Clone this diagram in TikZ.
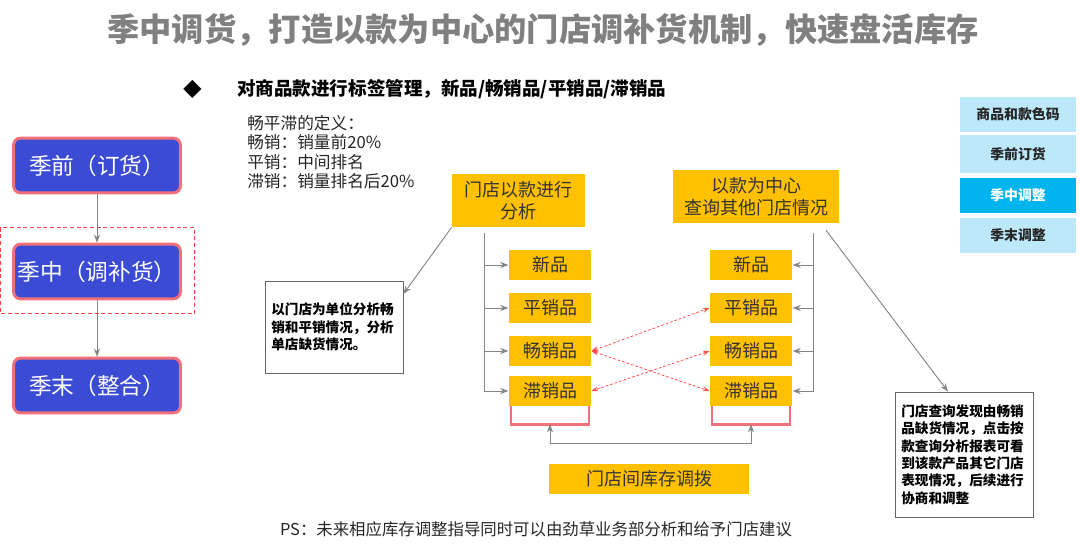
\documentclass[tikz,border=0pt]{standalone}
\usepackage{fontspec}
\setmainfont{Noto Sans CJK SC}
\usetikzlibrary{arrows.meta,positioning,calc}
\tikzset{>=Stealth}

\definecolor{stageblue}{HTML}{3B4BD3}
\definecolor{stagered}{HTML}{F0707A}
\definecolor{tagyellow}{HTML}{FFC000}
\definecolor{legendblue}{HTML}{BDE8FA}
\definecolor{legendcyan}{HTML}{00B4F0}
\definecolor{linegray}{HTML}{858585}

\begin{document}
\begin{tikzpicture}[x=0.75pt,y=-0.75pt,
    stage/.style={draw=stagered, line width=2.2pt, fill=stageblue, rounded corners=5pt, text=white,
      font=\fontsize{17}{20}\selectfont, minimum width=125pt, minimum height=41pt, inner sep=0pt},
    tagbox/.style={fill=tagyellow, text=black!80, font=\fontsize{13.5}{16.5}\selectfont,
      inner sep=0pt, minimum height=22.5pt, align=center},
    item/.style={tagbox, minimum width=62pt},
    note/.style={draw=black!60, line width=0.6pt, fill=white, font=\bfseries\fontsize{10.2}{13}\selectfont,
      align=left, text width=94pt, inner sep=0pt, minimum width=103.5pt},
    legend/.style={fill=legendblue, font=\bfseries\fontsize{10.4}{12}\selectfont, text=black!85,
      minimum width=87pt, minimum height=26pt, inner sep=0pt},
    conn/.style={draw=linegray, line width=0.7pt},
    swap/.style={draw=red!70, line width=0.6pt, dash pattern=on 2pt off 1.5pt, {Stealth[length=5pt]}-{Stealth[length=5pt]}},
    tray/.style={draw=stagered, line width=2pt}
  ]
  \useasboundingbox (0,0) rectangle (1080,549);

  % title and headline
  \node[font=\bfseries\fontsize{24.2}{27}\selectfont, text=black!50] (title) at (543,30)
    {季中调货，打造以款为中心的门店调补货机制，快速盘活库存};
  \node[font=\fontsize{14}{16}\selectfont] (bullet) at (193,89) {◆};
  \node[anchor=west, font=\bfseries\fontsize{13.9}{16}\selectfont, inner sep=0pt] (headline) at (237,89)
    {对商品款进行标签管理，新品/畅销品/平销品/滞销品};
  \node[anchor=north west, align=left, font=\fontsize{12.5}{14.5}\selectfont, text=black!85, inner sep=0pt] (define) at (247,115)
    {畅平滞的定义：\\畅销：销量前20\%\\平销：中间排名\\滞销：销量排名后20\%};

  % season stages
  \node[stage] (pre) at (97,165.5) {季前（订货）};
  \node[stage] (mid) at (97,271.5) {季中（调补货）};
  \node[stage] (post) at (97,385.5) {季末（整合）};
  \draw[->,conn] (pre) -- (mid);
  \draw[->,conn] (mid) -- (post);
  \draw[draw=red!75, line width=0.7pt, dash pattern=on 3pt off 2pt]
    ($(mid.north west)+(-12,-15)$) rectangle ($(mid.south east)+(13,13)$);

  % yellow tags
  \node[tagbox, minimum width=100pt, minimum height=40pt] (lhead) at (518.5,200.5) {门店以款进行\\分析};
  \node[tagbox, minimum width=124.5pt, minimum height=40pt] (rhead) at (756,196.5) {以款为中心\\查询其他门店情况};
  \node[item] (lnew)  at (550,265) {新品};
  \node[item] (lflat) at (550,308) {平销品};
  \node[item] (lhot)  at (550,351) {畅销品};
  \node[item] (lslow) at (550,391) {滞销品};
  \node[item] (rnew)  at (751,265) {新品};
  \node[item] (rflat) at (751,308) {平销品};
  \node[item] (rhot)  at (751,351) {畅销品};
  \node[item] (rslow) at (751,391) {滞销品};
  \node[tagbox, minimum width=150pt] (transfer) at (649,479) {门店间库存调拨};

  % trees
  \coordinate (ltrunk) at (484,233);
  \coordinate (rtrunk) at (813,233);
  \draw[->,conn] (ltrunk) |- (lslow.west);
  \foreach \n in {lnew,lflat,lhot} \draw[->,conn] (ltrunk |- \n.west) -- (\n.west);
  \draw[->,conn] (rtrunk) |- (rslow.east);
  \foreach \n in {rnew,rflat,rhot} \draw[->,conn] (rtrunk |- \n.east) -- (\n.east);

  % swaps between stores
  \draw[swap] (lhot.east) -- (rflat.west);
  \draw[swap] (lhot.east) -- (rslow.west);
  \draw[swap] (rhot.west) -- (lslow.east);

  % trays under slow sellers
  \draw[tray] ([xshift=2pt]lslow.south west) -- ++(0,18) -| ([xshift=-2pt]lslow.south east);
  \draw[tray] ([xshift=2pt]rslow.south west) -- ++(0,18) -| ([xshift=-2pt]rslow.south east);
  \coordinate (ltray) at ($(lslow.south)+(0,18)$);
  \coordinate (rtray) at ($(rslow.south)+(0,18)$);
  \draw[<->,conn] (ltray) -- ++(0,19) -| (rtray);

  % notes
  \node[note, minimum height=69pt] (lnote) at (334,327)
    {以门店为单位分析畅\\销和平销情况，分析\\单店缺货情况。};
  \node[note, minimum height=93.75pt] (rnote) at (964,454.5)
    {门店查询发现由畅销\\品缺货情况，点击按\\款查询分析报表可看\\到该款产品其它门店\\表现情况，后续进行\\协商和调整};
  \draw[->,conn] (lhead.south west) -- ([yshift=-10pt]lnote.north east);
  \draw[->,conn] ([xshift=-10pt,yshift=-5pt]rhead.south east) -- ([xshift=-12pt]rnote.north);

  % legend
  \node[legend] (lgcode) at (1018,114.5) {商品和款色码};
  \node[legend, minimum height=28.5pt] (lgpre) at (1018,154) {季前订货};
  \node[legend, fill=legendcyan, text=white] (lgmid) at (1018,195.5) {季中调整};
  \node[legend] (lgpost) at (1018,235.5) {季末调整};

  % footnote
  \node[font=\fontsize{12.3}{14}\selectfont, text=black!85] (ps) at (536,529)
    {PS：未来相应库存调整指导同时可以由劲草业务部分析和给予门店建议};
\end{tikzpicture}
\end{document}
